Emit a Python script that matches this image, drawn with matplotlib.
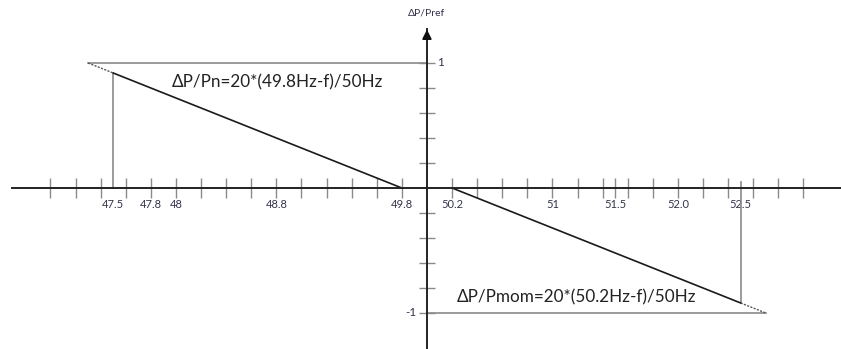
import numpy as np
import matplotlib.pyplot as plt

plt.rcParams['font.family'] = ['Lato', 'DejaVu Sans']

# Frequency axis (Hz), ticks every 0.2 Hz on each side of 50 Hz
minor_ticks = [round(f, 1) for f in np.arange(47.0, 53.01, 0.2) if abs(f - 50) > 0.05] + [51.5]
labeled_ticks = [47.5, 47.8, 48.0, 48.8, 49.8, 50.2, 51.0, 51.5, 52.0, 52.5]
tick_text = ['47.5', '47.8', '48', '48.8', '49.8', '50.2', '51', '51.5', '52.0', '52.5']

# dP/Pref ticks
p_ticks = [-1.0, -0.8, -0.6, -0.4, -0.2, 0.2, 0.4, 0.6, 0.8, 1.0]

# Under-frequency droop: dP/Pn = 20*(49.8Hz-f)/50Hz
under_f = [47.5, 49.8]
under_p = [0.92, 0.0]
under_ext_f = [47.3, 47.5]
under_ext_p = [1.0, 0.92]

# Over-frequency droop: dP/Pmom = 20*(50.2Hz-f)/50Hz
over_f = [50.2, 52.5]
over_p = [0.0, -0.92]
over_ext_f = [52.5, 52.7]
over_ext_p = [-0.92, -1.0]

fig = plt.figure(figsize=(8.41, 3.49), dpi=100)
ax = fig.add_axes([0, 0, 1, 1])
ax.set_xlim(46.598, 53.299)
ax.set_ylim(-1.288, 1.504)

grey = '#8a8a8a'
ink = '#33334a'

# axes through the origin (50 Hz, 0)
for s in ['top', 'right']:
    ax.spines[s].set_visible(False)
ax.spines['left'].set_position(('data', 50))
ax.spines['bottom'].set_position(('data', 0))
ax.spines['left'].set_bounds(-1.288, 1.27)
ax.spines['bottom'].set_bounds(46.69, 53.299)
for s in ['left', 'bottom']:
    ax.spines[s].set_linewidth(1.4)
    ax.spines[s].set_color('#222222')
ax.annotate('', xy=(50, 1.29), xytext=(50, 1.2),
            arrowprops=dict(arrowstyle='-|>', color='#111111', lw=1.2, mutation_scale=14))
ax.text(50, 1.40, 'ΔP/Pref', fontsize=7.5, color=ink, ha='center', va='center')

ax.set_xticks(minor_ticks, minor=True)
ax.set_xticks(labeled_ticks)
ax.set_xticklabels(tick_text, fontsize=8, color=ink)
ax.tick_params(axis='x', which='both', direction='inout', length=14, width=1, color=grey, pad=1)
# 47.5 and 52.5 are marked by the vertical lines, not by ticks
for loc, tick in zip(labeled_ticks, ax.xaxis.get_major_ticks()):
    if loc in (47.5, 52.5):
        tick.tick1line.set_visible(False)
ax.set_yticks(p_ticks)
ax.set_yticklabels([])
ax.tick_params(axis='y', direction='inout', length=12, width=1, color=grey)
ax.text(50.08, 1.0, '1', fontsize=8.5, color=ink, ha='left', va='center')
ax.text(49.92, -1.0, '-1', fontsize=8.5, color=ink, ha='right', va='center')

# reference lines at +1 and -1
ax.plot([under_ext_f[0], 50], [1, 1], color=grey, lw=1.2)
ax.plot([50, over_ext_f[1]], [-1, -1], color=grey, lw=1.2)
ax.plot([under_f[0], under_f[0]], [0, under_p[0]], color=grey, lw=1.2)
ax.plot([over_f[1], over_f[1]], [0.05, over_p[1]], color=grey, lw=1.2)

# droop lines
ax.plot(under_f, under_p, color='#1a1a1a', lw=1.2)
ax.plot(over_f, over_p, color='#1a1a1a', lw=1.2)
ax.plot(under_ext_f, under_ext_p, color='#555555', lw=1, ls=(0, (1.5, 1)))
ax.plot(over_ext_f, over_ext_p, color='#555555', lw=1, ls=(0, (1.5, 1)))

ax.text(47.968, 0.848, 'ΔP/Pn=20*(49.8Hz-f)/50Hz', fontsize=12.3, color='#222222', va='center')
ax.text(50.239, -0.872, 'ΔP/Pmom=20*(50.2Hz-f)/50Hz', fontsize=12.3, color='#222222', va='center')

fig.savefig('out.png', dpi=100)
